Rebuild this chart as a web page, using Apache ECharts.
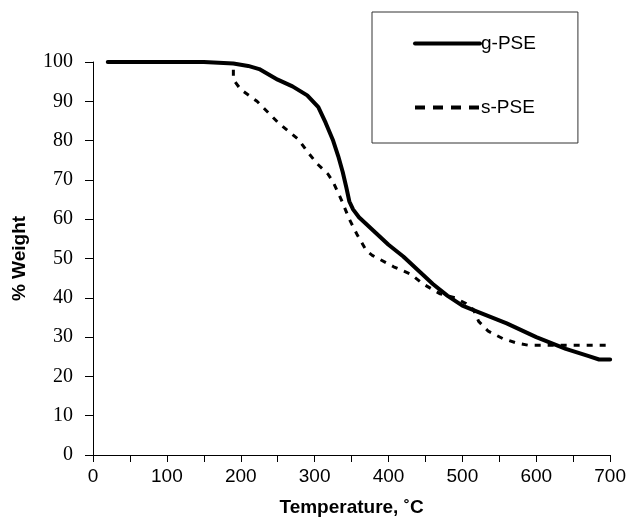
<!DOCTYPE html>
<html>
<head>
<meta charset="utf-8">
<script src="https://cdn.jsdelivr.net/npm/echarts@6/dist/echarts.min.js"></script>
<style>
  html, body { margin: 0; padding: 0; background: #fff; }
  #main { width: 629px; height: 522px; }
</style>
</head>
<body>
<div id="main"></div>
<script>
// TGA curves, [temperature C, % weight]
var gPSE = [
  [20, 100], [100, 100], [150, 100], [190, 99.6], [210, 99], [225, 98.2],
  [250, 95.5], [270, 93.8], [290, 91.5], [305, 88.5], [315, 84.5], [325, 80],
  [332, 76], [338, 72], [343, 68], [347, 64.5], [352, 62.5], [360, 60.5],
  [380, 57], [400, 53.5], [420, 50.5], [440, 47], [460, 43.5], [480, 40.5],
  [500, 38], [520, 36.5], [560, 33.5], [600, 30], [640, 27], [670, 25.2],
  [685, 24.3], [700, 24.3]
];
var sPSE = [
  [190, 98], [190, 95.5], [200, 93], [222, 90], [251, 84.5], [278, 80.3],
  [291, 77], [304, 74], [318, 71.5], [325, 69.5], [336, 65], [347, 60],
  [358, 55.9], [370, 52], [378, 50.8], [407, 47.9], [430, 46], [447, 43.5],
  [470, 41], [490, 40], [505, 38.5], [515, 37], [522, 34], [535, 31.5],
  [555, 29.6], [575, 28.4], [590, 27.9], [700, 27.9]
];
var seriesNames = ['g-PSE', 's-PSE'];

var chart = echarts.init(document.getElementById('main'));

var option = {
  backgroundColor: '#fff',
  animation: false,
  grid: { left: 93, right: 14, top: 62, bottom: 64 },
  legend: {
    orient: 'vertical',
    left: 372,
    top: 12,
    padding: [22, 42, 26, 41],
    itemGap: 45,
    itemWidth: 65,
    itemHeight: 14,
    borderColor: '#333',
    borderWidth: 1,
    data: [
      { name: seriesNames[0], itemStyle: { opacity: 0 }, lineStyle: { width: 4, color: '#000' } },
      { name: seriesNames[1], itemStyle: { opacity: 0 }, lineStyle: { width: 4, color: '#000', type: [10, 8] } }
    ],
    textStyle: { fontFamily: 'Liberation Sans', fontSize: 19, color: '#000', padding: [0, 0, 0, -4] }
  },
  xAxis: {
    type: 'value',
    min: 0,
    max: 700,
    interval: 100,
    name: 'Temperature, ˚C',
    nameLocation: 'middle',
    nameGap: 43,
    nameTextStyle: { fontFamily: 'Liberation Sans', fontSize: 19, fontWeight: 'bold', color: '#000' },
    axisLine: { lineStyle: { color: '#000', width: 1 } },
    axisTick: { show: true, length: 7, lineStyle: { color: '#000' } },
    minorTick: { show: true, splitNumber: 2, length: 7, lineStyle: { color: '#000' } },
    splitLine: { show: false },
    axisLabel: { margin: 12, fontFamily: 'Liberation Sans', fontSize: 19, color: '#000' }
  },
  yAxis: {
    type: 'value',
    min: 0,
    max: 100,
    interval: 10,
    name: '% Weight',
    nameLocation: 'middle',
    nameGap: 64,
    nameRotate: 90,
    nameTextStyle: { fontFamily: 'Liberation Sans', fontSize: 19, fontWeight: 'bold', color: '#000' },
    axisLine: { show: true, lineStyle: { color: '#000', width: 1 } },
    axisTick: { show: true, length: 8, lineStyle: { color: '#000' } },
    splitLine: { show: false },
    axisLabel: { margin: 20, fontFamily: 'Liberation Serif', fontSize: 20, color: '#000' }
  },
  series: [
    {
      name: seriesNames[0],
      type: 'line',
      data: gPSE,
      symbol: 'none',
      lineStyle: { color: '#000', width: 4, cap: 'round', join: 'round' },
      itemStyle: { color: '#000' }
    },
    {
      name: seriesNames[1],
      type: 'line',
      data: sPSE,
      symbol: 'none',
      lineStyle: { color: '#000', width: 3, type: [6, 7] },
      itemStyle: { color: '#000' }
    }
  ]
};

chart.setOption(option);
</script>
</body>
</html>
